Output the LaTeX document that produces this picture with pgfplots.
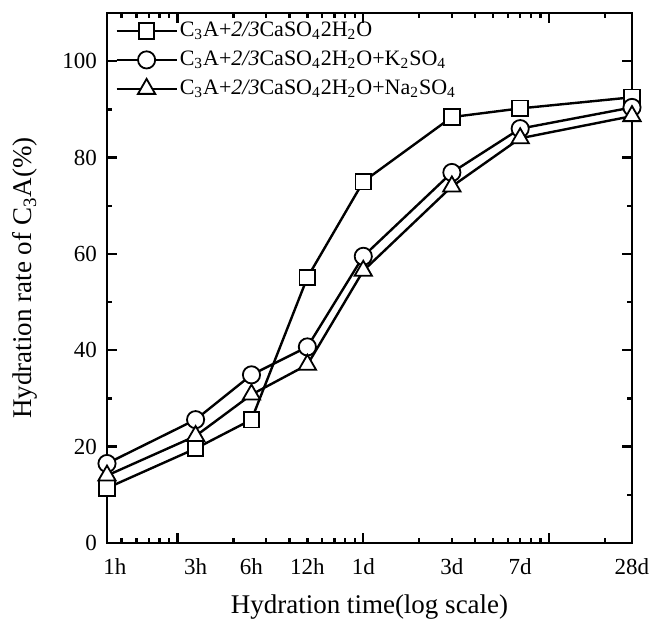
\documentclass[border=0pt]{standalone}
\usepackage{fontspec}
\setmainfont{Liberation Serif}
\usepackage{pgfplots}
\pgfplotsset{compat=1.18}
\begin{document}
\begin{tikzpicture}
\useasboundingbox (-53.5pt,-39.5pt) rectangle (271.5pt,271.5pt);
\begin{axis}[
  at={(0pt,0pt)}, anchor=south west,
  scale only axis, width=262.5pt, height=265pt,
  xmode=log, xmin=0.0416667, xmax=28, ymin=0, ymax=110,
  axis line style={line width=1.3pt},
  every tick/.style={black, line width=1.2pt},
  major tick length=5pt, minor tick length=2.6pt,
  xtick={0.1,1,10}, xticklabels={,,},
  minor xtick={0.05,0.06,0.07,0.08,0.09,0.2,0.3,0.4,0.5,0.6,0.7,0.8,0.9,2,3,4,5,6,7,8,9,20},
  extra x ticks={0.0416667,0.125,0.25,0.5,1,3,7,28},
  extra x tick labels={\hspace*{8pt}1h,3h,6h,12h,1d,3d,7d,28d},
  extra x tick style={major tick length=0pt},
  ytick={0,20,40,60,80,100}, minor y tick num=1,
  /pgf/number format/assume math mode=true,
  tick label style={font=\fontsize{11.5}{13}\selectfont},
  xticklabel style={yshift=-4pt},
  yticklabel style={xshift=-1.5pt},
  xlabel={Hydration time(log scale)},
  ylabel={Hydration rate of C\textsubscript{3}A(\%)},
  label style={font=\fontsize{13.5}{16}\selectfont},
  xlabel style={at={(axis description cs:0.5,-0.121)}, anchor=center},
  ylabel style={at={(axis description cs:-0.156,0.5)}, anchor=center},
  legend style={at={(axis description cs:0,1)}, anchor=north west, xshift=4pt, yshift=-2.5pt,
    draw=none, fill=none, inner sep=0pt,
    font=\fontsize{11}{13}\selectfont, row sep=2pt,
    nodes={inner sep=1pt, text height=8pt, text depth=2.5pt}},
  legend cell align=left,
  legend image code/.code={\draw[mark repeat=2,mark phase=2,#1] plot coordinates {(0pt,0pt)(15pt,0pt)(30pt,0pt)};},
  every axis plot/.append style={black, line width=1.2pt, mark size=4.3pt, mark options={fill=white, line width=0.9pt, solid}},
]
\addplot[mark=square*, mark size=3.9pt] coordinates {
(0.0416667,11.4) (0.125,19.6) (0.25,25.6) (0.5,55.1) (1,75.0) (3,88.4) (7,90.2) (28,92.5)};
\addplot[mark=*] coordinates {
(0.0416667,16.5) (0.125,25.6) (0.25,34.9) (0.5,40.7) (1,59.5) (3,76.9) (7,86.0) (28,90.4)};
\addplot[mark=triangle*, mark size=5pt] coordinates {
(0.0416667,14.0) (0.125,22.2) (0.25,30.8) (0.5,37.0) (1,56.5) (3,74.0) (7,84.0) (28,88.6)};
\legend{C\textsubscript{3}A+\textit{2/3}CaSO\textsubscript{4}2H\textsubscript{2}O,
C\textsubscript{3}A+\textit{2/3}CaSO\textsubscript{4}2H\textsubscript{2}O+K\textsubscript{2}SO\textsubscript{4},
C\textsubscript{3}A+\textit{2/3}CaSO\textsubscript{4}2H\textsubscript{2}O+Na\textsubscript{2}SO\textsubscript{4}}
\end{axis}
\end{tikzpicture}
\end{document}
